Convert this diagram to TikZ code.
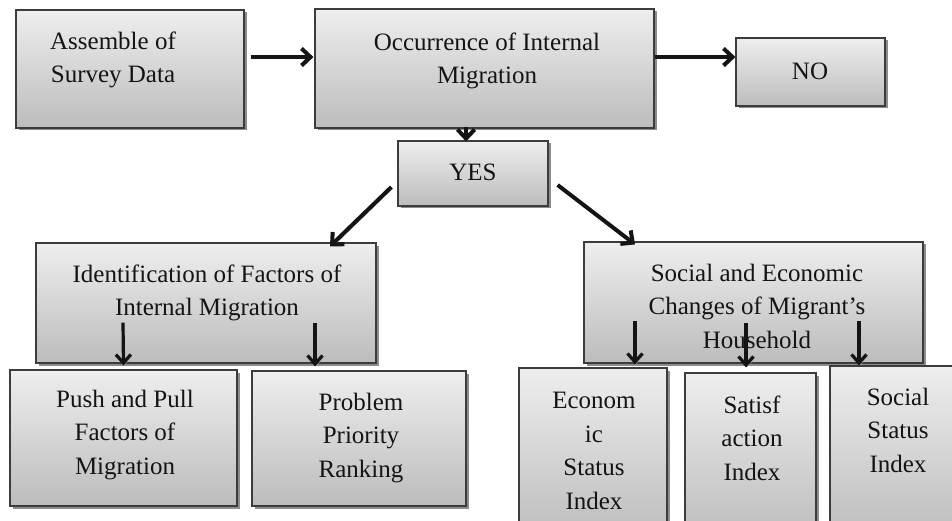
\documentclass[tikz,border=0pt]{standalone}
\usepackage{fontspec}
\setmainfont{Liberation Serif}
\usetikzlibrary{shadows,arrows.meta}
\definecolor{boxtop}{RGB}{238,238,238}
\definecolor{boxbot}{RGB}{188,188,188}
\definecolor{boxline}{RGB}{60,60,60}
\definecolor{ink}{RGB}{20,20,20}
\begin{document}
\begin{tikzpicture}[x=1pt,y=-1pt,
  box/.style={draw=boxline, line width=1.2pt, top color=boxtop, bottom color=boxbot,
    inner sep=0pt, drop shadow={shadow xshift=2.5pt, shadow yshift=-2.5pt, opacity=0.6, fill=black!75}},
  txt/.style={font=\fontsize{25}{33.5}\selectfont, text=ink, align=center, inner sep=0pt},
  shade arrow/.style={preaction={draw=black!35, transform canvas={shift={(1.5pt,-1.5pt)}}}},
  arr/.style={shade arrow, line width=4pt, draw=ink, -{Straight Barb[length=9pt,width=17pt]}},
  arrs/.style={shade arrow, line width=3.2pt, draw=ink, -{Straight Barb[length=8.5pt,width=15pt]}}
]
\fill[white] (0,0) rectangle (952,521);
\useasboundingbox (0,0) rectangle (952,521);
\clip (0,0) rectangle (952,521);

% boxes
\node[box, minimum width=228pt, minimum height=118pt] (asm) at (130,69) {};
\node[box, minimum width=339pt, minimum height=119pt] (occ) at (484.5,68.5) {};
\node[box, minimum width=149pt, minimum height=68pt] (no) at (810.5,72) {};
\node[box, minimum width=150pt, minimum height=65pt] (yes) at (473,173.5) {};
\node[box, minimum width=340pt, minimum height=120pt] (idf) at (206,303) {};
\node[box, minimum width=339pt, minimum height=121pt] (soc) at (753.5,302.5) {};
\node[box, minimum width=227pt, minimum height=136pt] (push) at (123.5,438) {};
\node[box, minimum width=214pt, minimum height=135pt] (prob) at (359,438.5) {};
\node[box, minimum width=148pt, minimum height=172pt] (eco) at (593,454) {};
\node[box, minimum width=131pt, minimum height=167pt] (sat) at (750.5,456.5) {};
\node[box, minimum width=140pt, minimum height=174pt] (sst) at (900,453) {};

% labels
\node[txt] (asmT) at (113,60) {Assemble of\\Survey Data};
\node[txt] (occT) at (487,61) {Occurrence of Internal\\Migration};
\node[txt] (noT) at (810,71) {NO};
\node[txt] (yesT) at (473,172) {YES};
\node[txt] (idfT) at (207,293) {Identification of Factors of\\Internal Migration};
\node[txt] (socT) at (757,306) {Social and Economic\\Changes of Migrant’s\\Household};
\node[txt] (pushT) at (125,435) {Push and Pull\\Factors of\\Migration};
\node[txt] (probT) at (361,438) {Problem\\Priority\\Ranking};
\node[txt] (ecoT) at (594,451) {Econom\\ic\\Status\\Index};
\node[txt] (satT) at (752,438) {Satisf\\action\\Index};
\node[txt] (sstT) at (898,430) {Social\\Status\\Index};

% connectors
\draw[arr] ([shift={(6,-12)}]asm.east) -- ([shift={(-1,-11.5)}]occ.west);
\draw[arr] ([shift={(0,-11.5)}]occ.east) -- ([shift={(0,-15)}]no.west);
\draw[arr] ([shift={(-18.5,-2)}]occ.south) -- ([shift={(-7,1)}]yes.north);
\draw[arr] ([shift={(-6,13.5)}]yes.west) -- ([shift={(124,4)}]idf.north);
\draw[arr] ([shift={(9,11.5)}]yes.east) -- ([shift={(-118.5,3)}]soc.north);
\draw[arrs] ([shift={(-83,-41)}]idf.south) -- ([shift={(0,-4)}]push.north);
\draw[arrs] ([shift={(109,-41)}]idf.south) -- ([shift={(-44,-4)}]prob.north);
\draw[arrs] ([shift={(-118.5,-43)}]soc.south) -- ([shift={(42,-3)}]eco.north);
\draw[arrs] ([shift={(-7.5,-41)}]soc.south) -- ([shift={(-4.5,-5)}]sat.north);
\draw[arrs] ([shift={(105.5,-43)}]soc.south) -- ([shift={(-41,0)}]sst.north);
\end{tikzpicture}
\end{document}
